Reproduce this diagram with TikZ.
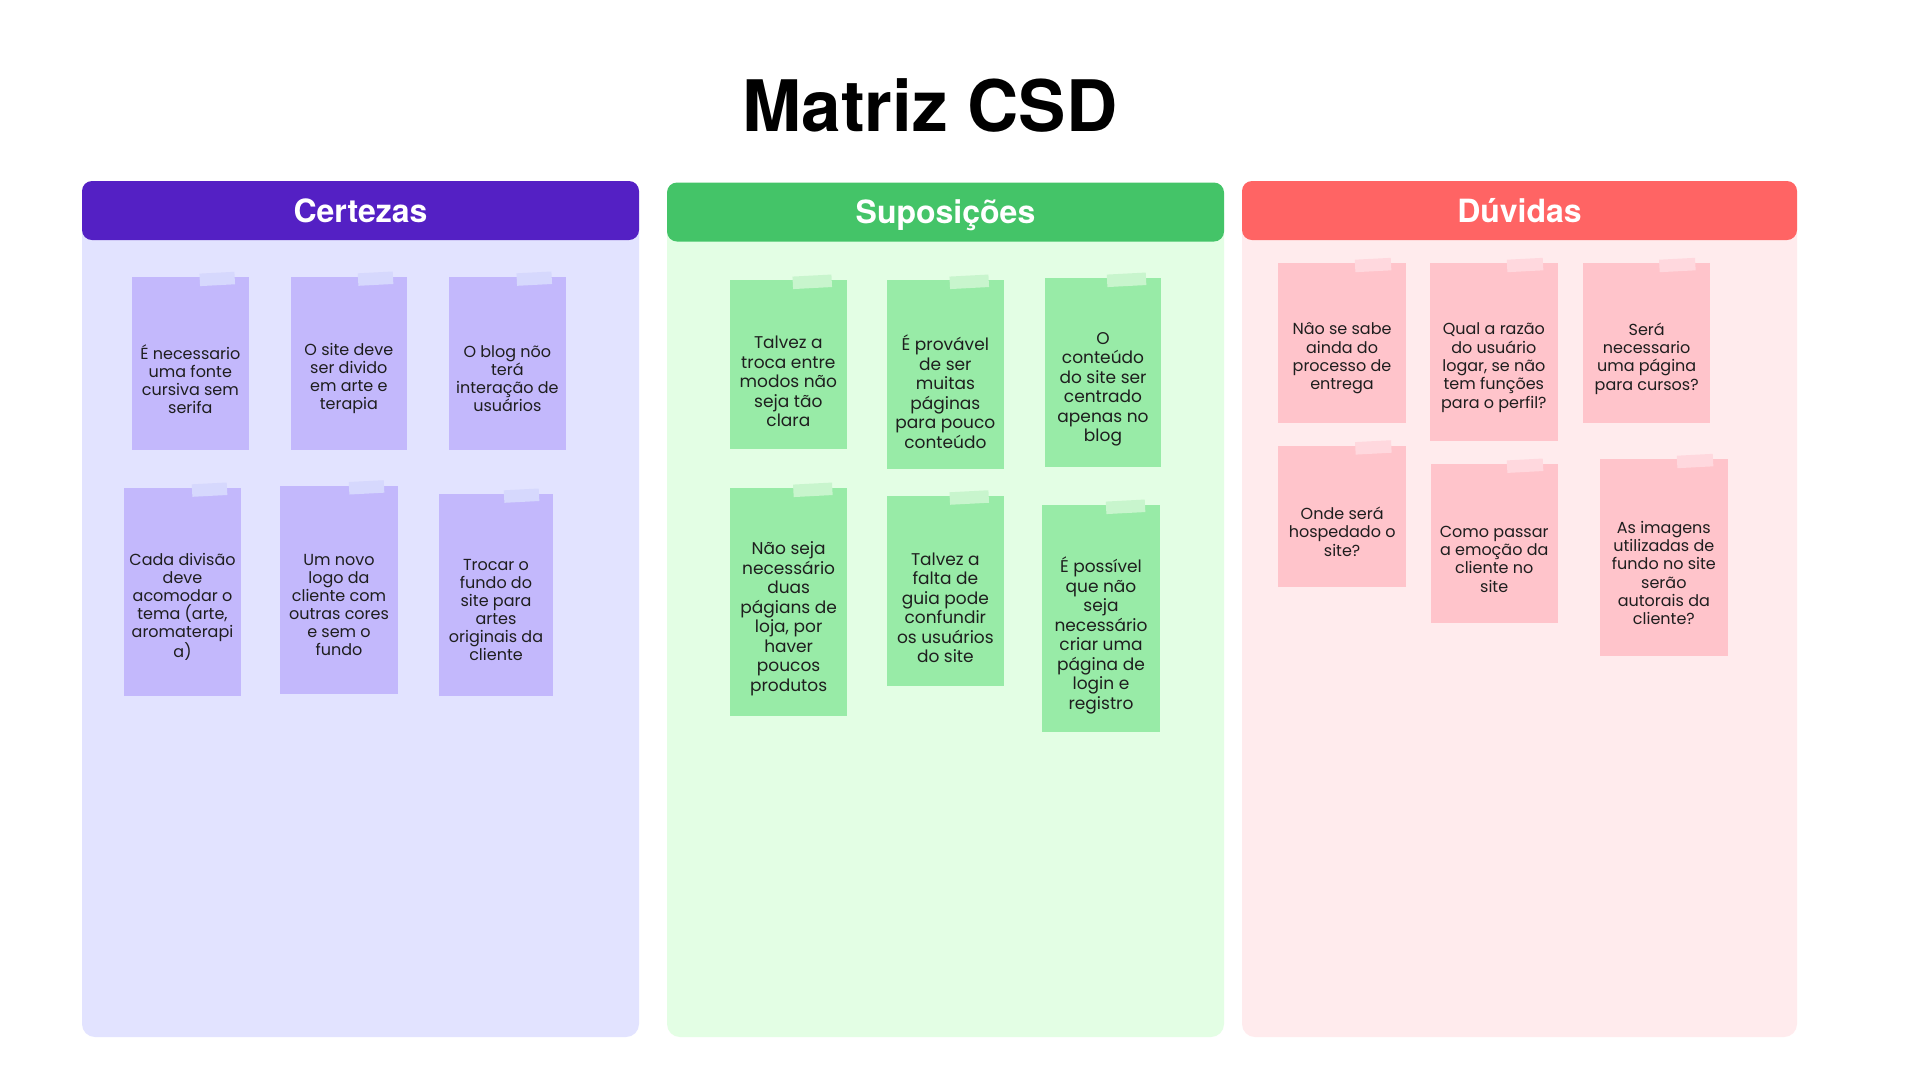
\documentclass[tikz,border=0pt]{standalone}
\usepackage{fontspec}
\setmainfont{Poppins}
\newfontfamily\headfont{TeX Gyre Heros}
\usetikzlibrary{fit}
\definecolor{cHead}{HTML}{5420C4}
\definecolor{cBody}{HTML}{E2E3FF}
\definecolor{cNote}{HTML}{C3B8FC}
\definecolor{cTape}{HTML}{D6D8FD}
\definecolor{sHead}{HTML}{44C468}
\definecolor{sBody}{HTML}{E3FEE4}
\definecolor{sNote}{HTML}{98EBA7}
\definecolor{sTape}{HTML}{C8F5CD}
\definecolor{dHead}{HTML}{FF6464}
\definecolor{dBody}{HTML}{FFEBED}
\definecolor{dNote}{HTML}{FFC4CB}
\definecolor{dTape}{HTML}{FFD8DE}
\definecolor{noteText}{HTML}{1E1E1E}
\tikzset{
  notebase/.style={inner sep=0pt, outer sep=0pt},
  tapebase/.style={inner sep=0pt, outer sep=0pt, minimum height=12.5pt, rotate=3},
  textbase/.style={inner sep=0pt, align=center, text=noteText},
  cnote/.style={notebase, fill=cNote},
  snote/.style={notebase, fill=sNote},
  dnote/.style={notebase, fill=dNote},
  ctape/.style={tapebase, fill=cTape, minimum width=35pt, xshift=-31.5pt},
  stape/.style={tapebase, fill=sTape, minimum width=39pt, xshift=-34.5pt},
  dtape/.style={tapebase, fill=dTape, minimum width=36pt, xshift=-32.7pt},
  ctext/.style={textbase, font=\fontsize{16}{18}\selectfont, yshift=-15pt},
  stext/.style={textbase, font=\fontsize{17}{19.5}\selectfont, yshift=-17pt},
  dtext/.style={textbase, font=\fontsize{16}{18.3}\selectfont, yshift=-15.5pt},
  headtext/.style={anchor=base, text=white, font=\headfont\bfseries\fontsize{32}{32}\selectfont},
}
\newcommand\stickynote[7]{%
  \coordinate (#1nw) at (#3,#4);
  \coordinate (#1se) at (#5,#6);
  \node[#2note, fit=(#1nw)(#1se)] (#1) {};
  \node[#2tape] (#1tape) at (#1.north east) {};
  \node[#2text] (#1txt) at (#1.center) {#7};
}
\begin{document}
\begin{tikzpicture}[x=1pt, y=-1pt]
\useasboundingbox[fill=white] (0,0) rectangle (1920,1080);

% title
\node[anchor=base, font=\headfont\bfseries\fontsize{71}{71}\selectfont] (title) at (930,131) {Matriz CSD};

% panels
\fill[cBody, rounded corners=13pt] (82,200) rectangle (639,1037);
\fill[cHead, rounded corners=10pt] (82,181) rectangle (639,240);
\node[headtext] (hc) at (360.5,222) {Certezas};

\fill[sBody, rounded corners=13pt] (667,200) rectangle (1224,1037);
\fill[sHead, rounded corners=10pt] (667,182.5) rectangle (1224,241.5);
\node[headtext] (hs) at (945.5,223.5) {Suposições};

\fill[dBody, rounded corners=13pt] (1242,200) rectangle (1797,1037);
\fill[dHead, rounded corners=10pt] (1242,181) rectangle (1797,240);
\node[headtext] (hd) at (1519.5,222) {Dúvidas};

% Certezas
\stickynote{c1}{c}{132}{277.3}{248.7}{450}{É necessario\\uma fonte\\cursiva sem\\serifa}
\stickynote{c2}{c}{290.7}{277}{407}{450}{O site deve\\ser divido\\em arte e\\terapia}
\stickynote{c3}{c}{449}{277}{565.7}{450}{O blog nõo\\terá\\interação de\\usuários}
\stickynote{c4}{c}{124}{488}{241}{695.7}{Cada divisão\\deve\\acomodar o\\tema (arte,\\aromaterapi\\a)}
\stickynote{c5}{c}{280}{485.7}{398}{694}{Um novo\\logo da\\cliente com\\outras cores\\e sem o\\fundo}
\stickynote{c6}{c}{439}{494}{553}{695.7}{Trocar o\\fundo do\\site para\\artes\\originais da\\cliente}

% Suposicoes
\stickynote{s1}{s}{730}{280}{846.7}{449.3}{Talvez a\\troca entre\\modos não\\seja tão\\clara}
\stickynote{s2}{s}{887}{280}{1003.7}{469}{É provável\\de ser\\muitas\\páginas\\para pouco\\conteúdo}
\stickynote{s3}{s}{1045}{278}{1161}{466.7}{O\\conteúdo\\do site ser\\centrado\\apenas no\\blog}
\stickynote{s4}{s}{730}{488}{847.3}{715.7}{Não seja\\necessário\\duas\\págians de\\loja, por\\haver\\poucos\\produtos}
\stickynote{s5}{s}{887}{495.7}{1003.7}{685.7}{Talvez a\\falta de\\guia pode\\confundir\\os usuários\\do site}
\stickynote{s6}{s}{1042}{505}{1160}{732}{É possível\\que não\\seja\\necessário\\criar uma\\página de\\login e\\registro}

% Duvidas
\stickynote{d1}{d}{1278.3}{263.3}{1405.7}{422.7}{Nâo se sabe\\ainda do\\processo de\\entrega}
\stickynote{d2}{d}{1430}{263.3}{1557.7}{441}{Qual a razão\\do usuário\\logar, se não\\tem funções\\para o perfil?}
\stickynote{d3}{d}{1583.3}{263.3}{1710}{422.7}{Será\\necessario\\uma página\\para cursos?}
\stickynote{d4}{d}{1278.3}{445.7}{1406}{586.7}{Onde será\\hospedado o\\site?}
\stickynote{d5}{d}{1430.7}{464}{1557.7}{623.3}{Como passar\\a emoção da\\cliente no\\site}
\stickynote{d6}{d}{1600}{459.3}{1727.7}{655.7}{As imagens\\utilizadas de\\fundo no site\\serão\\autorais da\\cliente?}
\end{tikzpicture}
\end{document}
